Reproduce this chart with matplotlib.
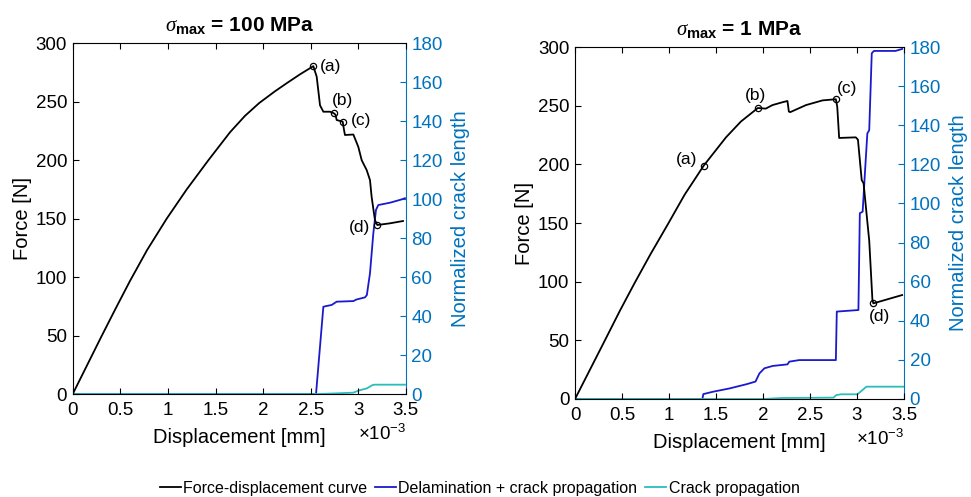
import matplotlib
matplotlib.use("Agg")
import matplotlib.pyplot as plt
from matplotlib.lines import Line2D
from matplotlib.ticker import ScalarFormatter

plt.rcParams["font.family"] = ["Liberation Sans", "DejaVu Sans"]
plt.rcParams["mathtext.fontset"] = "custom"
plt.rcParams["mathtext.rm"] = "Liberation Sans"
plt.rcParams["mathtext.bf"] = "Liberation Sans:bold"
plt.rcParams["mathtext.it"] = "Liberation Serif:italic"

# displacement values are in units of 1e-3 mm, force in N
# --- sigma_max = 100 MPa ---
disp_100 = [0, 0.30, 0.45, 0.60, 0.78, 0.987, 1.197, 1.425, 1.653, 1.81, 1.96,
            2.125, 2.25, 2.388, 2.528, 2.545, 2.563, 2.598, 2.633, 2.703, 2.745,
            2.76, 2.773, 2.836, 2.85, 2.86, 2.948, 3.0, 3.036, 3.088, 3.123,
            3.14, 3.175, 3.2, 3.33, 3.47]
force_100 = [0, 49, 73, 96.5, 123, 150, 175, 200, 224, 238, 249,
             259, 266, 273.5, 280.5, 276, 271.5, 247, 241.5, 241.5, 240.1,
             239, 234.4, 233, 226, 221.6, 222, 211.5, 200, 191.6, 183,
             168.8, 148.8, 144.6, 146, 148]
events_100 = [14, 20, 23, 33]  # (a) (b) (c) (d)

delam_x_100 = [0, 2.556, 2.633, 2.668, 2.72, 2.745, 2.773, 2.948, 2.98, 3.07,
               3.09, 3.123, 3.158, 3.186, 3.21, 3.333, 3.37, 3.456, 3.49]
delam_y_100 = [0, 0, 44.8, 45.2, 45.7, 46.5, 47.4, 47.7, 48.5, 49.6,
               50.8, 62, 82.5, 94.5, 97, 98.2, 98.7, 99.9, 100.5]
crack_x_100 = [0, 2.58, 2.75, 2.948, 3.0, 3.05, 3.09, 3.15, 3.17, 3.49]
crack_y_100 = [0, 0, 0.3, 0.7, 1.7, 2.4, 2.9, 4.6, 4.8, 4.8]

# --- sigma_max = 1 MPa ---
disp_1 = [0, 0.318, 0.476, 0.635, 0.80, 0.988, 1.165, 1.37, 1.606, 1.765, 1.945,
          2.03, 2.10, 2.21, 2.26, 2.275, 2.29, 2.457, 2.633, 2.775, 2.79, 2.81,
          2.987, 3.01, 3.05, 3.07, 3.11, 3.13, 3.164, 3.174, 3.48]
force_1 = [0, 50, 75, 99, 123, 149, 174, 199, 223, 236.5, 248,
           247.5, 250.5, 253, 254, 245, 244.5, 250.5, 254.5, 255.5, 249, 222.5,
           223, 221, 186.6, 183.8, 151, 135, 84.4, 81.5, 88.6]
events_1 = [7, 10, 19, 29]

delam_x_1 = [0, 1.355, 1.365, 1.467, 1.644, 1.82, 1.92, 1.962, 2.015, 2.103,
             2.26, 2.28, 2.386, 2.775, 2.785, 3.015, 3.03, 3.06, 3.086, 3.11,
             3.13, 3.157, 3.18, 3.41, 3.48]
delam_y_1 = [0, 0, 2.5, 3.7, 5.4, 7.5, 8.9, 13.1, 15.7, 16.9,
             17.7, 19.1, 19.9, 19.9, 44.7, 45.5, 95, 95.8, 117, 135.8,
             137.5, 176.8, 178, 178, 179]
crack_x_1 = [0, 2.0, 2.2, 2.75, 2.78, 2.83, 3.0, 3.02, 3.1, 3.49]
crack_y_1 = [0, 0, 0.5, 0.7, 2.0, 2.4, 2.4, 3.0, 6.3, 6.3]

labels = ["(a)", "(b)", "(c)", "(d)"]

BLACK = "#000000"
BLUE = "#1a1acc"
CYAN = "#2bbcbc"
AXBLUE = "#0072BD"
TICK_FS = 13.5
LABEL_FS = 14.5


class PlainSci(ScalarFormatter):
    """Scientific offset on the axis, but tick labels without padded zeros."""
    def _set_format(self):
        self.format = "%g"


def draw_panel(rect, title, disp, force, events, dx, dy, cx, cy, label_pos):
    ax = fig.add_axes(rect)
    ax2 = ax.twinx()
    s = 1e-3
    ax2.plot([v * s for v in dx], dy, color=BLUE, lw=1.3)
    ax2.plot([v * s for v in cx], cy, color=CYAN, lw=1.3)
    ax.plot([v * s for v in disp], force, color=BLACK, lw=1.3, zorder=3)
    ex = [disp[i] * s for i in events]
    ey = [force[i] for i in events]
    ax.plot(ex, ey, "o", mfc="none", mec=BLACK, ms=4.5, mew=0.9, zorder=4)
    for lab, x, y, (ox, oy, ha) in zip(labels, ex, ey, label_pos):
        ax.annotate(lab, (x, y), xytext=(ox, oy), textcoords="offset points",
                    ha=ha, va="center", fontsize=12.5)

    # force axis above the crack-length axis so the black curve stays on top
    ax.set_zorder(ax2.get_zorder() + 1)
    ax.patch.set_visible(False)

    ax.set_xlim(0, 3.5e-3)
    ax.set_ylim(0, 300)
    ax2.set_ylim(0, 180)
    ax.set_xticks([i * 0.5e-3 for i in range(8)])
    ax.set_yticks(range(0, 301, 50))
    ax2.set_yticks(range(0, 181, 20))
    fmt = PlainSci(useMathText=True)
    fmt.set_powerlimits((0, 0))
    ax.xaxis.set_major_formatter(fmt)
    ax.xaxis.get_offset_text().set_fontsize(TICK_FS)

    ax.tick_params(axis="both", direction="in", length=4, width=0.8,
                   labelsize=TICK_FS, top=True)
    ax.tick_params(axis="x", pad=6)
    ax.tick_params(axis="y", pad=4)
    ax2.tick_params(axis="y", direction="in", length=4, width=0.8,
                    labelsize=TICK_FS, colors=AXBLUE, pad=4)
    ax.spines["right"].set_visible(False)
    ax2.spines["right"].set_color(AXBLUE)
    for sp in ["left", "top", "bottom"]:
        ax2.spines[sp].set_visible(False)

    ax.set_xlabel("Displacement [mm]", fontsize=LABEL_FS, labelpad=6)
    ax.set_ylabel("Force [N]", fontsize=LABEL_FS, labelpad=3)
    ax2.set_ylabel("Normalized crack length", fontsize=LABEL_FS, color=AXBLUE,
                   labelpad=6)
    ax.set_title(title, fontsize=15, fontweight="bold", pad=9)
    return ax


fig = plt.figure(figsize=(9.71, 4.97), dpi=100)

draw_panel([0.0749, 0.2072, 0.3431, 0.7056],
           r"$\sigma_{\mathbf{max}}$ = 100 MPa",
           disp_100, force_100, events_100,
           delam_x_100, delam_y_100, crack_x_100, crack_y_100,
           [(5, 0, "left"), (6, 9.6, "center"), (5.8, 1, "left"), (-5.3, -1.8, "right")])

draw_panel([0.5922, 0.1972, 0.3388, 0.7082],
           r"$\sigma_{\mathbf{max}}$ = 1 MPa",
           disp_1, force_1, events_1,
           delam_x_1, delam_y_1, crack_x_1, crack_y_1,
           [(-5, 4.5, "right"), (-2, 9.1, "center"), (0.7, 7.4, "left"), (4.5, -9.6, "center")])

handles = [Line2D([], [], color=BLACK, lw=1.3),
           Line2D([], [], color=BLUE, lw=1.3),
           Line2D([], [], color=CYAN, lw=1.3)]
fig.legend(handles, ["Force-displacement curve",
                     "Delamination + crack propagation",
                     "Crack propagation"],
           loc="center", bbox_to_anchor=(0.494, 0.018), ncol=3, frameon=False,
           fontsize=11.5, handlelength=1.3, handletextpad=0.15, columnspacing=0.5,
           borderpad=0, borderaxespad=0)

fig.savefig("out.png", dpi=100)
